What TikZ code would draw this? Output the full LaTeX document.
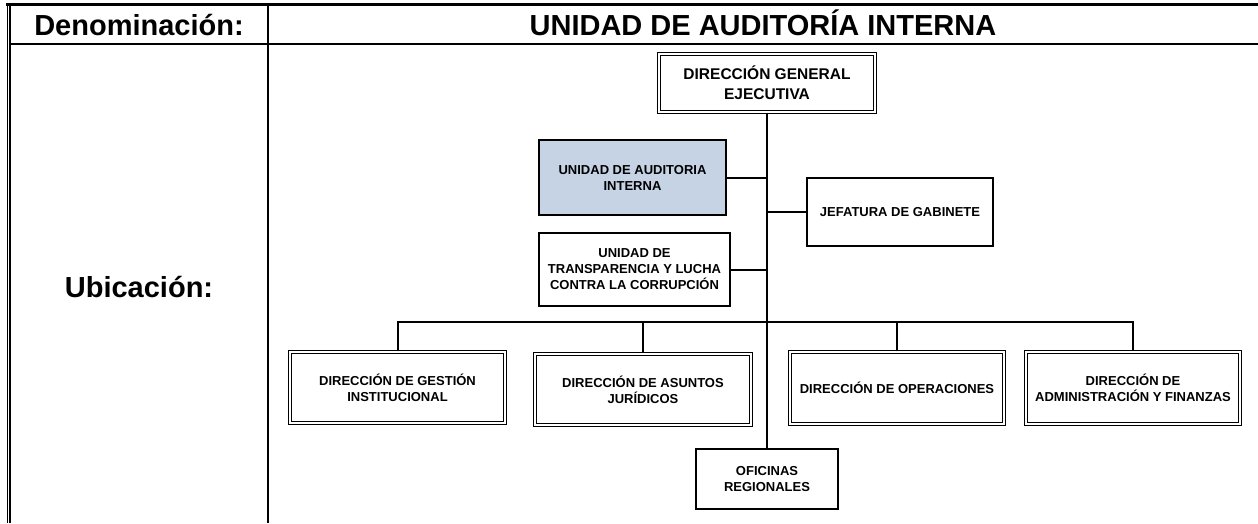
\documentclass[tikz,border=0pt]{standalone}
\usepackage{fontspec}
\setmainfont{Liberation Sans}
\definecolor{uaifill}{HTML}{C5D3E4}
\tikzset{
  dblbox/.style={draw, double, line width=1.35pt, double distance=1.4pt, inner sep=0pt, align=center, font=\fontsize{13}{16}\selectfont\bfseries},
  sglbox/.style={draw, line width=1.9pt, inner sep=0pt, align=center, font=\fontsize{13}{16}\selectfont\bfseries},
  conn/.style={line width=2pt},
  mainconn/.style={line width=2.6pt},
  hdr/.style={font=\fontsize{29}{32}\selectfont\bfseries, inner sep=0pt, anchor=base},
}
\begin{document}
\begin{tikzpicture}[x=1pt,y=-1pt]
\useasboundingbox (0,0) rectangle (1258,523);
% table frame
\draw[line width=3pt] (6,4.2) -- (1258,4.2);
\draw[line width=1.2pt] (7.2,3) -- (7.2,523);
\draw[line width=2.2pt] (10,3) -- (10,523);
\draw[line width=2pt] (10,44.2) -- (1258,44.2);
\draw[line width=2.6pt] (268,3) -- (268,523);
% header texts
\node[hdr] (den) at (139,35) {Denominación:};
\node[hdr] (tit) at (763,35) {UNIDAD DE AUDITORÍA INTERNA};
\node[hdr] (ubi) at (139,297) {Ubicación:};
% boxes
\node[dblbox, minimum width=215.9pt, minimum height=57.9pt, font=\fontsize{15.5}{20}\selectfont\bfseries] (dge) at (767,83) {DIRECCIÓN GENERAL\\EJECUTIVA};
\node[sglbox, fill=uaifill, minimum width=187.1pt, minimum height=75.1pt] (uai) at (632.5,177.5) {UNIDAD DE AUDITORIA\\INTERNA};
\node[sglbox, minimum width=186.1pt, minimum height=68.1pt] (jg) at (900,212) {JEFATURA DE GABINETE};
\node[sglbox, minimum width=191.1pt, minimum height=73.1pt] (utlc) at (634.5,269.5) {UNIDAD DE\\TRANSPARENCIA Y LUCHA\\CONTRA LA CORRUPCIÓN};
\node[dblbox, minimum width=214.9pt, minimum height=70.9pt] (dgi) at (397.5,387.5) {DIRECCIÓN DE GESTIÓN\\INSTITUCIONAL};
\node[dblbox, minimum width=215.9pt, minimum height=70.9pt] (daj) at (643,389.5) {DIRECCIÓN DE ASUNTOS\\JURÍDICOS};
\node[dblbox, minimum width=213.9pt, minimum height=71.9pt] (do) at (897,388) {DIRECCIÓN DE OPERACIONES};
\node[dblbox, minimum width=213.9pt, minimum height=71.9pt] (daf) at (1133,388) {DIRECCIÓN DE\\ADMINISTRACIÓN Y FINANZAS};
\node[sglbox, minimum width=142.1pt, minimum height=60.1pt] (or) at (767,479) {OFICINAS\\REGIONALES};
\coordinate (bus) at (767,322);
% connectors
\draw[mainconn] (dge.south) -- (or.north);
\draw[conn] (uai.east) -- (uai.east -| dge.south);
\draw[conn] (jg.west) -- (jg.west -| dge.south);
\draw[conn] (utlc.east) -- (utlc.east -| dge.south);
\draw[conn] (dgi.north) |- (bus -| daf.north) -- (daf.north);
\draw[conn] (daj.north) -- (daj.north |- bus);
\draw[conn] (do.north) -- (do.north |- bus);
\end{tikzpicture}
\end{document}
